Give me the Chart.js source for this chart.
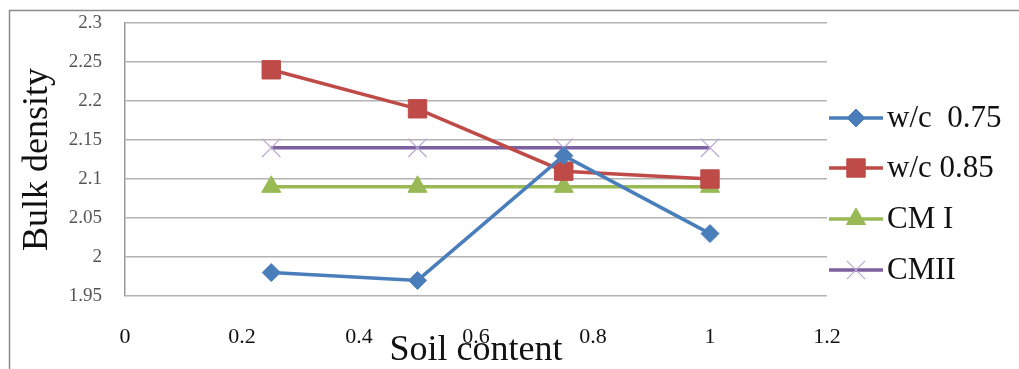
<!DOCTYPE html>
<html>
<head>
<meta charset="utf-8">
<script src="https://cdn.jsdelivr.net/npm/chart.js@4"></script>
<style>
  html, body { margin: 0; padding: 0; background: #fff; }
  #wrap { width: 1019px; height: 369px; }
</style>
</head>
<body>
<div id="wrap"><canvas id="bulkChart" width="1019" height="369"></canvas></div>
<script>
// values
const soilContent = [0.25, 0.5, 0.75, 1];
const wc075 = [1.98, 1.97, 2.13, 2.03];
const wc085 = [2.24, 2.19, 2.11, 2.10];
const cm1 = [2.09, 2.09, 2.09, 2.09];
const cm2 = [2.14, 2.14, 2.14, 2.14];
const seriesNames = ['w/c  0.75', 'w/c 0.85', 'CM I', 'CMII'];

const serif = 'Liberation Serif';
const pts = arr => arr.map((v, i) => ({ x: soilContent[i], y: v }));

// frame lines (top + left) like the original figure
const framePlugin = {
  id: 'frame',
  beforeDraw(chart) {
    const c = chart.ctx;
    c.save();
    c.strokeStyle = '#8a8a8a';
    c.lineWidth = 1.5;
    c.beginPath();
    c.moveTo(9.5, 369);
    c.lineTo(9.5, 10.5);
    c.lineTo(1019, 10.5);
    c.stroke();
    c.restore();
  }
};

// legend drawn by hand: line + marker + text
const legendPlugin = {
  id: 'sideLegend',
  afterDraw(chart) {
    const c = chart.ctx;
    const ys = [118, 168, 219, 270];
    chart.data.datasets.forEach((ds, i) => {
      const y = ys[i];
      c.save();
      c.strokeStyle = ds.borderColor;
      c.lineWidth = 3.5;
      c.beginPath();
      c.moveTo(829, y);
      c.lineTo(883, y);
      c.stroke();
      c.fillStyle = ds.pointBackgroundColor;
      c.strokeStyle = ds.pointBorderColor;
      c.lineWidth = ds.pointBorderWidth;
      Chart.helpers.drawPoint(c, {
        pointStyle: ds.pointStyle,
        radius: ds.pointRadius,
        borderWidth: ds.pointBorderWidth
      }, 856, y);
      c.fillStyle = '#111';
      c.font = '31px "' + serif + '"';
      c.textBaseline = 'middle';
      c.fillText(ds.label, 887, y + 1);
      c.restore();
    });
  }
};

function pointSet(label, data, color, style, radius, ptColor, ptBorder) {
  return {
    label,
    data: pts(data),
    borderColor: color,
    backgroundColor: ptColor || color,
    pointBackgroundColor: ptColor || color,
    pointBorderColor: ptColor || color,
    borderWidth: 3.5,
    pointStyle: style,
    pointRadius: radius,
    pointBorderWidth: ptBorder || 1,
    tension: 0
  };
}

new Chart(document.getElementById('bulkChart'), {
  type: 'line',
  data: {
    datasets: [
      pointSet(seriesNames[0], wc075, '#4a7ebb', 'rectRot', 9),
      pointSet(seriesNames[1], wc085, '#be4b48', 'rect', 13),
      pointSet(seriesNames[2], cm1, '#98b954', 'triangle', 11),
      pointSet(seriesNames[3], cm2, '#7d60a0', 'crossRot', 13, '#b9a6d4', 1.2)
    ]
  },
  options: {
    responsive: false,
    animation: false,
    layout: { autoPadding: false, padding: { left: 10, top: 23, right: 192, bottom: 0 } },
    plugins: { legend: { display: false }, tooltip: { enabled: false } },
    scales: {
      x: {
        type: 'linear',
        min: 0, max: 1.2,
        afterFit: s => { s.height = 73; },
        grid: { display: false, drawTicks: false },
        border: { display: false },
        ticks: {
          stepSize: 0.2,
          padding: 28,
          color: '#111',
          font: { family: serif, size: 22 },
          callback: v => Math.round(v * 10) / 10
        },
        title: {
          display: true,
          text: 'Soil content',
          color: '#111',
          font: { family: serif, size: 36, lineHeight: 1 },
          padding: { top: 0, bottom: 0 }
        }
      },
      y: {
        min: 1.95, max: 2.3,
        afterFit: s => { s.width = 115; s.paddingTop = 0; s.paddingBottom = 0; },
        grid: { color: '#b3b3b3', lineWidth: 1.5, drawTicks: false },
        border: { display: true, color: '#9a9a9a', width: 1.5 },
        ticks: {
          stepSize: 0.05,
          padding: 23,
          color: '#555',
          font: { family: serif, size: 19 },
          callback: v => Math.round(v * 100) / 100
        },
        title: {
          display: true,
          text: 'Bulk density',
          color: '#111',
          font: { family: serif, size: 36, lineHeight: 1 },
          padding: { top: 10, bottom: 0 }
        }
      }
    }
  },
  plugins: [framePlugin, legendPlugin]
});
</script>
</body>
</html>
